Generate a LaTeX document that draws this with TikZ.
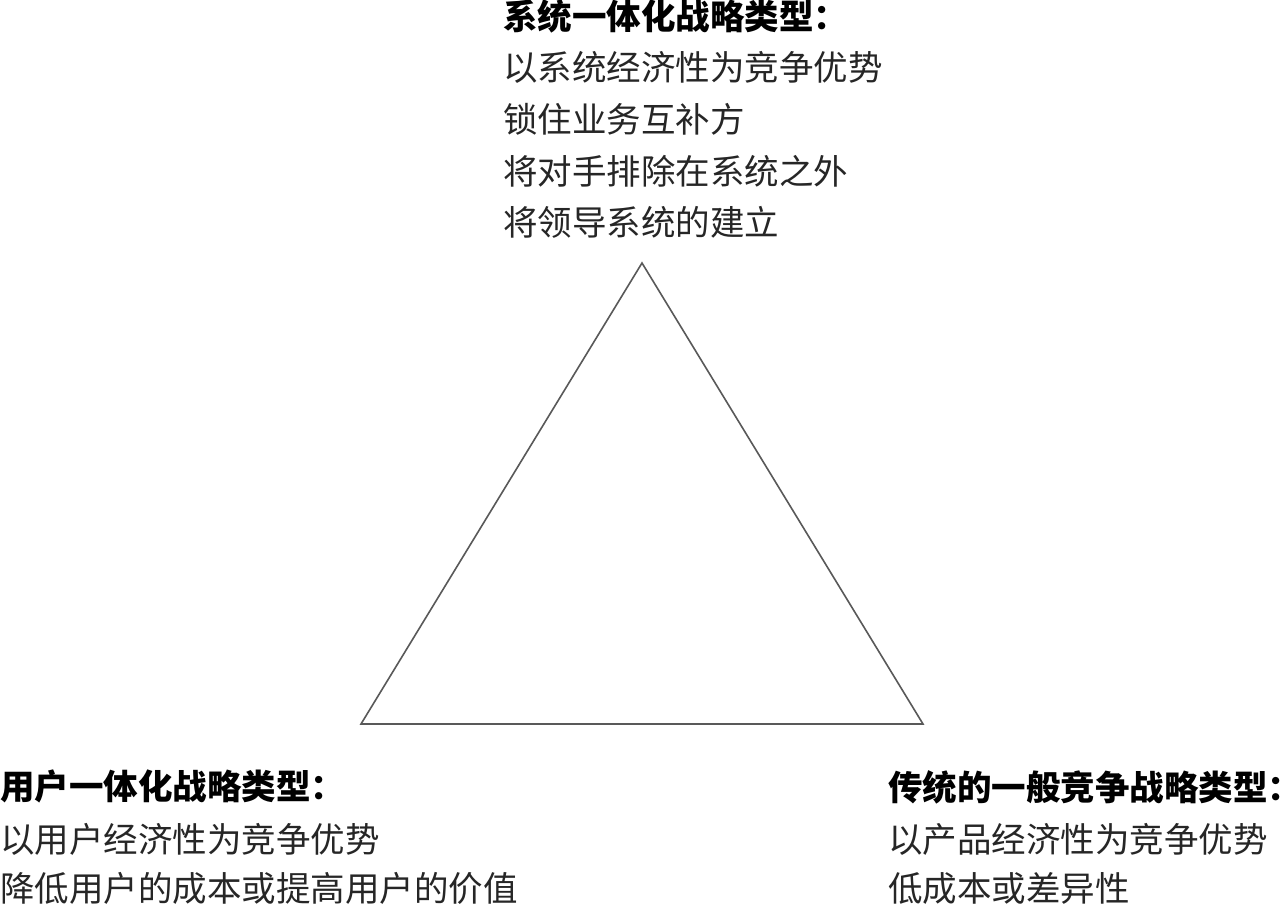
\documentclass[tikz,border=0pt]{standalone}
\usepackage{fontspec}
\newfontfamily\cjk{Noto Sans CJK SC}
\tikzset{
  txt/.style={anchor=base west, inner sep=0pt, font=\cjk\fontsize{34.5}{40}\selectfont, text=black!85},
  ttl/.style={txt, font=\cjk\bfseries\fontsize{34.5}{40}\selectfont, text=black},
  tri/.style={draw=black!65, line width=1.6pt, line join=miter}
}
\begin{document}
\begin{tikzpicture}[x=1pt,y=-1pt]
\useasboundingbox[fill=white] (0,0) rectangle (1282,904);
% triangle
\coordinate (A) at (642,263);
\coordinate (B) at (361,724);
\coordinate (C) at (923,724);
\draw[tri] (A) -- (B) -- (C) -- cycle;
% top block
\node[ttl] (t0) at (503,30) {系统一体化战略类型：};
\node[txt] (t1) at (503,81) {以系统经济性为竞争优势};
\node[txt] (t2) at (503,133) {锁住业务互补方};
\node[txt] (t3) at (503,185) {将对手排除在系统之外};
\node[txt] (t4) at (503,235) {将领导系统的建立};
% bottom left
\node[ttl] (l0) at (0,799) {用户一体化战略类型：};
\node[txt] (l1) at (0,852) {以用户经济性为竞争优势};
\node[txt] (l2) at (0,901) {降低用户的成本或提高用户的价值};
% bottom right
\node[ttl] (r0) at (888,800) {传统的一般竞争战略类型：};
\node[txt] (r1) at (888,852) {以产品经济性为竞争优势};
\node[txt] (r2) at (888,901) {低成本或差异性};
\end{tikzpicture}
\end{document}
